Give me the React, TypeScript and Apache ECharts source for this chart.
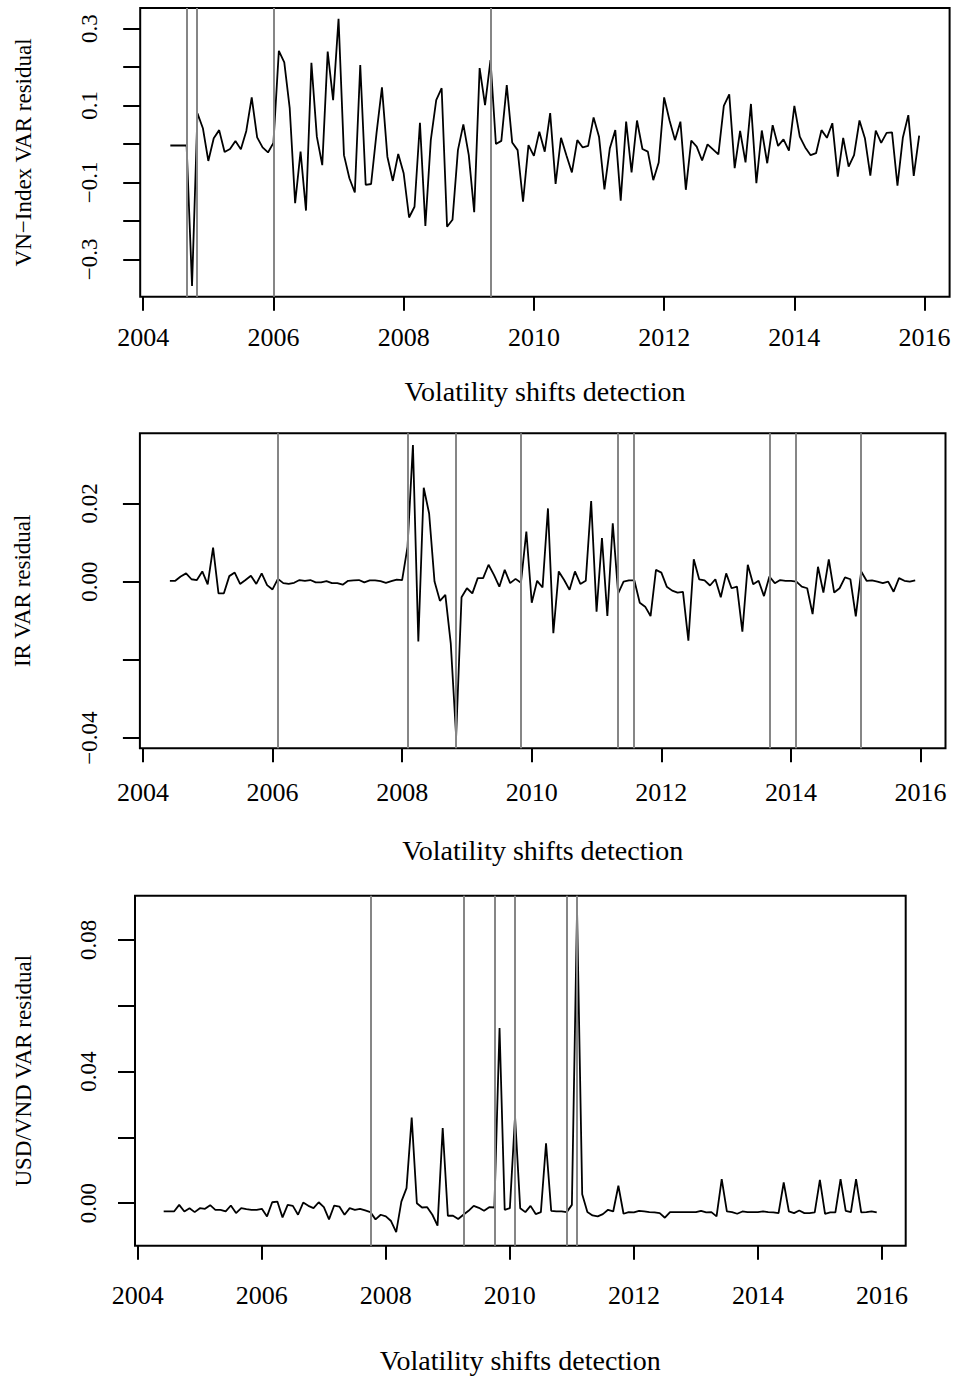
import React, { useEffect, useRef } from "react";
import * as echarts from "echarts";

// Monthly VAR residuals, June 2004 – December 2015
const START = 2004 + 5 / 12;

const vnIndex = [
  -0.004, -0.004, -0.004, -0.004, -0.369, 0.080, 0.041, -0.044, 0.015, 0.036,
  -0.021, -0.013, 0.008, -0.014, 0.034, 0.121, 0.017, -0.009, -0.022, 0.003,
  0.242, 0.212, 0.093, -0.154, -0.020, -0.173, 0.211, 0.019, -0.055, 0.240,
  0.114, 0.325, -0.029, -0.089, -0.126, 0.205, -0.106, -0.104, 0.028, 0.147,
  -0.033, -0.096, -0.026, -0.076, -0.191, -0.163, 0.055, -0.213, 0.010, 0.114,
  0.145, -0.215, -0.197, -0.016, 0.051, -0.029, -0.177, 0.197, 0.101, 0.218,
  0.000, 0.008, 0.153, 0.004, -0.016, -0.150, -0.003, -0.031, 0.032, -0.020,
  0.080, -0.104, 0.016, -0.030, -0.074, 0.010, -0.009, -0.005, 0.069, 0.019,
  -0.118, -0.011, 0.036, -0.147, 0.058, -0.074, 0.061, -0.013, -0.020, -0.094,
  -0.048, 0.121, 0.061, 0.010, 0.058, -0.119, 0.009, -0.007, -0.043, -0.001,
  -0.014, -0.027, 0.099, 0.129, -0.063, 0.034, -0.048, 0.104, -0.102, 0.035,
  -0.050, 0.049, -0.005, 0.012, -0.017, 0.099, 0.019, -0.009, -0.029, -0.024,
  0.036, 0.016, 0.054, -0.085, 0.016, -0.059, -0.029, 0.061, 0.015, -0.082,
  0.035, 0.003, 0.029, 0.030, -0.108, 0.017, 0.075, -0.083, 0.022,
];

const irResid = [
  0.0002, 0.0002, 0.0013, 0.0021, 0.0006, 0.0004, 0.0026, -0.0007, 0.0087, -0.0030,
  -0.0030, 0.0014, 0.0023, -0.0006, 0.0004, 0.0015, -0.0006, 0.0021, -0.0009, -0.0020,
  0.0007, -0.0004, -0.0006, -0.0003, 0.0004, 0.0002, 0.0004, -0.0002, -0.0002, 0.0001,
  -0.0004, -0.0004, -0.0008, 0.0002, 0.0003, 0.0004, -0.0002, 0.0003, 0.0003, 0.0001,
  -0.0003, 0.0001, 0.0005, 0.0004, 0.0089, 0.0349, -0.0153, 0.0240, 0.0174, 0.0000,
  -0.0049, -0.0034, -0.0157, -0.0395, -0.0040, -0.0017, -0.0030, 0.0009, 0.0009, 0.0043,
  0.0017, -0.0013, 0.0030, -0.0004, 0.0007, -0.0003, 0.0128, -0.0054, 0.0002, -0.0015,
  0.0187, -0.0132, 0.0026, 0.0004, -0.0021, 0.0026, -0.0006, 0.0002, 0.0206, -0.0077,
  0.0111, -0.0088, 0.0149, -0.0030, 0.0000, 0.0003, 0.0003, -0.0054, -0.0064, -0.0088,
  0.0030, 0.0023, -0.0013, -0.0023, -0.0028, -0.0026, -0.0151, 0.0057, 0.0006, 0.0003,
  -0.0010, 0.0006, -0.0040, 0.0021, -0.0017, -0.0013, -0.0128, 0.0043, -0.0007, 0.0002,
  -0.0037, 0.0013, -0.0004, 0.0004, 0.0002, 0.0002, 0.0000, -0.0013, -0.0017, -0.0083,
  0.0038, -0.0028, 0.0057, -0.0028, -0.0017, 0.0011, 0.0006, -0.0089, 0.0026, 0.0002,
  0.0003, 0.0000, -0.0004, 0.0000, -0.0026, 0.0009, 0.0002, 0.0000, 0.0003,
];

const usdVnd = [
  -0.0025, -0.0025, -0.0025, -0.0005, -0.0025, -0.0015, -0.0027, -0.0015, -0.0017, -0.0006,
  -0.0020, -0.0020, -0.0025, -0.0007, -0.0030, -0.0015, -0.0018, -0.0020, -0.0020, -0.0017,
  -0.0040, 0.0003, 0.0005, -0.0043, -0.0005, -0.0008, -0.0035, 0.0002, -0.0008, -0.0015,
  0.0003, -0.0012, -0.0049, -0.0007, -0.0010, -0.0035, -0.0015, -0.0020, -0.0017, -0.0022,
  -0.0027, -0.0049, -0.0035, -0.0040, -0.0054, -0.0088, 0.0005, 0.0046, 0.0260, 0.0000,
  -0.0013, -0.0012, -0.0035, -0.0068, 0.0228, -0.0038, -0.0038, -0.0048, -0.0035, -0.0023,
  -0.0008, -0.0014, -0.0023, -0.0012, -0.0013, 0.0532, -0.0020, -0.0015, 0.0263, -0.0015,
  -0.0027, -0.0008, -0.0033, -0.0027, 0.0182, -0.0023, -0.0025, -0.0025, -0.0027, -0.0005,
  0.0890, 0.0027, -0.0027, -0.0037, -0.0040, -0.0033, -0.0020, -0.0025, 0.0053, -0.0032,
  -0.0027, -0.0028, -0.0023, -0.0025, -0.0027, -0.0028, -0.0030, -0.0044, -0.0027, -0.0027,
  -0.0027, -0.0027, -0.0027, -0.0027, -0.0023, -0.0028, -0.0027, -0.0040, 0.0073, -0.0025,
  -0.0027, -0.0032, -0.0025, -0.0027, -0.0027, -0.0027, -0.0025, -0.0027, -0.0028, -0.0030,
  0.0063, -0.0025, -0.0030, -0.0022, -0.0030, -0.0030, -0.0028, 0.0071, -0.0032, -0.0028,
  -0.0028, 0.0073, -0.0023, -0.0027, 0.0073, -0.0028, -0.0027, -0.0025, -0.0028,
];

// Detected volatility shifts (year-month)
const breaksVN = ["2004-09", "2004-11", "2006-01", "2009-05"];
const breaksIR = ["2006-02", "2008-02", "2008-11", "2009-11", "2011-05", "2011-08", "2013-09", "2014-02", "2015-02"];
const breaksUSD = ["2007-10", "2009-04", "2009-10", "2010-02", "2010-12", "2011-02"];

// Axis ticks and labels
const xTicks = [2004, 2006, 2008, 2010, 2012, 2014, 2016];
const yTicksVN = [-0.3, -0.2, -0.1, 0, 0.1, 0.2, 0.3];
const yLabelsVN = [-0.3, -0.1, 0.1, 0.3];
const yTicksIR = [-0.04, -0.02, 0, 0.02];
const yLabelsIR = [-0.04, 0, 0.02];
const yTicksUSD = [0, 0.02, 0.04, 0.06, 0.08];
const yLabelsUSD = [0, 0.04, 0.08];

const yNames = ["VN\u2212Index VAR residual", "IR VAR residual", "USD/VND VAR residual"];
const xName = "Volatility shifts detection";

const FONT = "'Liberation Serif', 'Times New Roman', serif";

const toPairs = (vals: number[]) => vals.map((v, i) => [START + i / 12, v]);
const ym = (s: string) => {
  const [y, m] = s.split("-").map(Number);
  return y + (m - 1) / 12;
};
const fmt = (d: number) => (v: number) => v.toFixed(d).replace("-", "\u2212");

export default function App() {
  const ref = useRef<HTMLDivElement>(null);

  useEffect(() => {
    if (!ref.current) return;
    const chart = echarts.init(ref.current, undefined, { renderer: "svg" });

    const panels = [
      {
        grid: { left: 140.2, top: 8.1, width: 809.4, height: 288.7 },
        yMin: -0.397, yMax: 0.353, ticks: yTicksVN, labels: yLabelsVN, dec: 1,
        data: vnIndex, breaks: breaksVN,
        xMargin: 27.5, xGap: 80.5, yMargin: 39.5, yGap: 105.5,
      },
      {
        grid: { left: 139.9, top: 433.3, width: 805.6, height: 315 },
        yMin: -0.0426, yMax: 0.0379, ticks: yTicksIR, labels: yLabelsIR, dec: 2,
        data: irResid, breaks: breaksIR,
        xMargin: 31, xGap: 88, yMargin: 39.4, yGap: 105.5,
      },
      {
        grid: { left: 135, top: 895.7, width: 770.7, height: 350 },
        yMin: -0.0129, yMax: 0.0934, ticks: yTicksUSD, labels: yLabelsUSD, dec: 2,
        data: usdVnd, breaks: breaksUSD,
        xMargin: 36.5, xGap: 100.5, yMargin: 35.5, yGap: 100.5,
      },
    ];

    const option: any = {
      animation: false,
      backgroundColor: "#fff",
      textStyle: { fontFamily: FONT, color: "#000" },
      grid: panels.map((p) => ({
        ...p.grid,
        show: true,
        borderColor: "#000",
        borderWidth: 2,
        containLabel: false,
      })),
      xAxis: panels.map((p, k) => ({
        type: "value",
        gridIndex: k,
        position: "bottom",
        min: 2003.954,
        max: 2016.384,
        splitLine: { show: false },
        axisLine: { show: false, onZero: false },
        axisTick: {
          show: true,
          length: 14,
          customValues: xTicks,
          lineStyle: { color: "#000", width: 2 },
        },
        axisLabel: {
          customValues: xTicks,
          formatter: (v: number) => String(Math.round(v)),
          fontFamily: FONT,
          fontSize: 26,
          color: "#000",
          margin: p.xMargin,
        },
        name: xName,
        nameLocation: "middle",
        nameGap: p.xGap,
        nameTextStyle: { fontFamily: FONT, fontSize: 28, color: "#000" },
      })),
      yAxis: panels.map((p, k) => ({
        type: "value",
        gridIndex: k,
        position: "left",
        min: p.yMin,
        max: p.yMax,
        splitLine: { show: false },
        axisLine: { show: false, onZero: false },
        axisTick: {
          show: true,
          length: 17,
          customValues: p.ticks,
          lineStyle: { color: "#000", width: 2 },
        },
        axisLabel: {
          customValues: p.labels,
          formatter: fmt(p.dec),
          rotate: 90,
          fontFamily: FONT,
          fontSize: 23,
          color: "#000",
          margin: p.yMargin,
        },
        name: yNames[k],
        nameLocation: "middle",
        nameGap: p.yGap,
        nameTextStyle: { fontFamily: FONT, fontSize: 23, color: "#000" },
      })),
      series: panels.map((p, k) => ({
        type: "line",
        xAxisIndex: k,
        yAxisIndex: k,
        data: toPairs(p.data),
        showSymbol: false,
        symbol: "none",
        silent: true,
        lineStyle: { color: "#000", width: 1.8 },
        markLine: {
          silent: true,
          symbol: ["none", "none"],
          label: { show: false },
          lineStyle: { color: "#868686", width: 2, type: "solid" },
          data: p.breaks.map((b) => ({ xAxis: ym(b) })),
        },
      })),
    };

    chart.setOption(option);
    return () => chart.dispose();
  }, []);

  return (
    <div
      ref={ref}
      style={{ position: "absolute", left: 0, top: 0, width: 956, height: 1376 }}
    />
  );
}
